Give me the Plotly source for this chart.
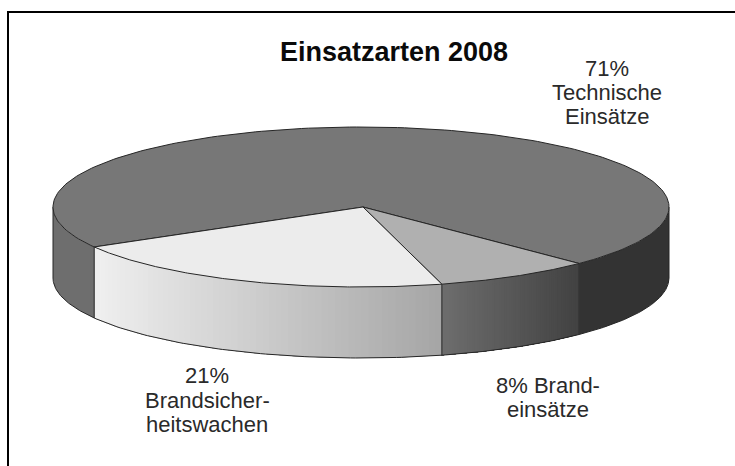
import numpy as np
import plotly.graph_objects as go

# Data
categories = ["Brandeinsätze", "Brandsicherheitswachen", "Technische Einsätze"]
values = [8.3, 20.9, 70.8]
title_text = "Einsatzarten 2008"
label_lines = [
    ["8% Brand-", "einsätze"],
    ["21%", "Brandsicher-", "heitswachen"],
    ["71%", "Technische", "Einsätze"],
]

# Styling / projection of the tilted disc
W, H = 735, 466
CX, CY, RX, RY, DEPTH = 361, 207, 308, 80, 71
START = 44.9
TOP_COL = ["#b0b0b0", "#ececec", "#777777"]
WALL_GRAD = [((110, 110, 110), (66, 66, 66)),
             ((240, 240, 240), (166, 166, 166)),
             ((110, 110, 110), (110, 110, 110))]
EDGE = "#262626"
LABEL_POS = [[(548, 385), (548, 409)],
             [(207, 375), (207, 400), (207, 424)],
             [(607, 68), (607, 92), (607, 116)]]


def px(t):
    return CX + RX * np.cos(np.radians(t))


def py(t):
    return CY + RY * np.sin(np.radians(t))


fig = go.Figure()


def poly(xs, ys, fill, line=None, name=None):
    fig.add_trace(go.Scatter(
        x=list(xs), y=list(ys), mode="lines", fill="toself", fillcolor=fill,
        line=dict(color=line or fill, width=1 if line else 0),
        hoverinfo="skip" if name is None else "text", text=name, showlegend=False))


# Angular extents derived from the values
bounds = [START]
for v in values:
    bounds.append(bounds[-1] + 360 * v / sum(values))

# Walls
for i in range(3):
    a, b = bounds[i], bounds[i + 1]
    segments = [(a, min(b, 180))]
    if b > 360:
        segments = [(a, 180), (360, b)]
    for seg_i, (s, e) in enumerate(segments):
        if s >= e:
            continue
        c0, c1 = WALL_GRAD[i]
        if i == 2 and seg_i == 1:
            c0, c1 = (51, 51, 51), (51, 51, 51)
        xs, xe = px(s), px(e)
        lo, hi = min(xs, xe), max(xs, xe)
        n = 60 if c0 != c1 else 1
        ts = np.linspace(s, e, n + 1)
        # painter's order: each strip reaches the far end so no seams show
        for k in range(n):
            tt = np.linspace(ts[k], e, 60)
            f = (px(ts[k]) - lo) / (hi - lo) if hi > lo else 0
            col = tuple(int(round(c0[j] + (c1[j] - c0[j]) * f)) for j in range(3))
            poly(np.r_[px(tt), px(tt[::-1])],
                 np.r_[py(tt), py(tt[::-1]) + DEPTH],
                 "rgb(%d,%d,%d)" % col)
        tt = np.linspace(s, e, 80)
        fig.add_trace(go.Scatter(x=px(tt), y=py(tt) + DEPTH, mode="lines",
                                 line=dict(color=EDGE, width=1), hoverinfo="skip",
                                 showlegend=False))

# Wall separators and outer sides
for t in [bounds[0], bounds[1], bounds[2], 0, 180]:
    fig.add_trace(go.Scatter(x=[px(t), px(t)], y=[py(t), py(t) + DEPTH], mode="lines",
                             line=dict(color=EDGE, width=1), hoverinfo="skip",
                             showlegend=False))

# Top wedges
for i in [2, 0, 1]:
    tt = np.linspace(bounds[i], bounds[i + 1], 200)
    poly(np.r_[CX + 2, px(tt), CX + 2], np.r_[CY, py(tt), CY], TOP_COL[i], EDGE,
         "%s: %d%%" % (categories[i], round(values[i])))

annotations = [dict(x=394 / W, y=1 - 52 / H, xref="paper", yref="paper", text="<b>%s</b>" % title_text,
                    showarrow=False, xanchor="center", yanchor="middle",
                    font=dict(family="Liberation Sans", size=27, color="#0a0a0a"))]
for lines, pos in zip(label_lines, LABEL_POS):
    for line, (x, y) in zip(lines, pos):
        annotations.append(dict(x=x / W, y=1 - y / H, xref="paper", yref="paper", text=line,
                                showarrow=False, xanchor="center", yanchor="middle",
                                font=dict(family="Liberation Sans", size=22, color="#2a2a2a")))

fig.update_layout(
    width=W, height=H, margin=dict(l=0, r=0, t=0, b=0),
    paper_bgcolor="white", plot_bgcolor="white", showlegend=False,
    xaxis=dict(range=[0, W], visible=False, fixedrange=True),
    yaxis=dict(range=[H, 0], visible=False, fixedrange=True),
    annotations=annotations,
    shapes=[
        dict(type="line", xref="paper", yref="paper", x0=8 / W, x1=8 / W, y0=0, y1=1 - 12 / H,
             line=dict(color="black", width=2)),
        dict(type="line", xref="paper", yref="paper", x0=7 / W, x1=1, y0=1 - 12 / H, y1=1 - 12 / H,
             line=dict(color="black", width=2)),
    ],
)
fig.write_html("out.html", config={"displayModeBar": False},
               post_script="document.body.style.margin='0';document.body.style.overflow='hidden';")
